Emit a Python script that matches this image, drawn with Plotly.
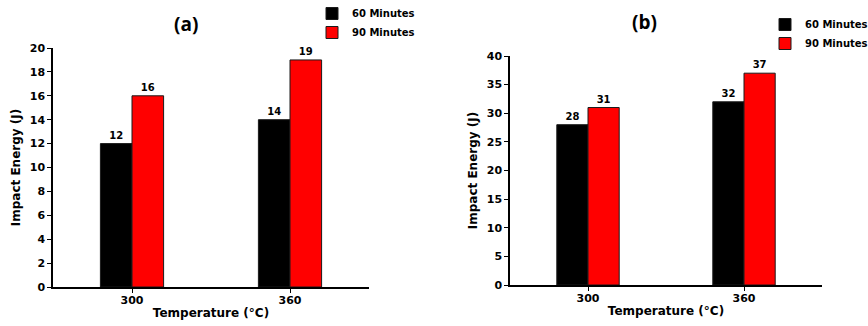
import plotly.graph_objects as go

temperatures = ["300", "360"]
a_60 = [12, 14]
a_90 = [16, 19]
b_60 = [28, 32]
b_90 = [31, 37]
series_names = ["60 Minutes", "90 Minutes"]
colors = ["#000000", "#ff0000"]

FONT = "DejaVu Sans"
W, H = 868, 326
fig = go.Figure()

def add_pair(vals60, vals90, xa, ya, leg):
    for name, vals, col in zip(series_names, [vals60, vals90], colors):
        fig.add_trace(go.Bar(
            x=temperatures, y=vals, name=name, xaxis=xa, yaxis=ya,
            marker=dict(color=col, line=dict(color="#1a1a1a", width=1)),
            text=vals, texttemplate="<b>%{text}</b>", textposition="outside",
            textfont=dict(family=FONT, size=10, color="black"),
            cliponaxis=False, legend=leg, showlegend=True,
        ))

add_pair(a_60, a_90, "x", "y", "legend")
add_pair(b_60, b_90, "x2", "y2", "legend2")

axis_common = dict(showline=True, linecolor="black", linewidth=1.5, showgrid=False,
                   zeroline=False, ticks="outside", ticklen=4, tickwidth=1.2,
                   tickcolor="black", mirror=False, automargin=True,
                   tickfont=dict(family=FONT, size=11, color="black", weight="bold"))

xt = dict(text="<b>Temperature (°C)</b>", font=dict(family=FONT, size=12, color="black"), standoff=3)
yt = dict(text="<b>Impact Energy (J)</b>", font=dict(family=FONT, size=12, color="black"), standoff=7)

leg_common = dict(font=dict(family=FONT, size=10, color="black", weight="bold"),
                  bgcolor="rgba(0,0,0,0)", tracegroupgap=0, itemwidth=30,
                  xanchor="left", yanchor="top", traceorder="normal",
                  xref="paper", yref="paper")

fig.update_layout(
    width=W, height=H, margin=dict(l=0, r=0, t=0, b=0, autoexpand=False),
    paper_bgcolor="white", plot_bgcolor="white",
    barmode="group", bargap=0.6, bargroupgap=0,
    xaxis=dict(domain=[53 / W, 369 / W], type="category", range=[-0.5, 1.5],
               anchor="y", title=xt, ticklabelstandoff=-2, **axis_common),
    yaxis=dict(domain=[1 - 287 / H, 1 - 48 / H], range=[0, 20], dtick=2, anchor="x",
               title=yt, **axis_common),
    xaxis2=dict(domain=[510 / W, 822 / W], type="category", range=[-0.5, 1.5],
                anchor="y2", title=xt, ticklabelstandoff=-2, **axis_common),
    yaxis2=dict(domain=[1 - 285 / H, 1 - 56 / H], range=[0, 40], dtick=5, anchor="x2",
                title=yt, **axis_common),
    legend=dict(x=312 / W, y=1 + 1 / H, **leg_common),
    legend2=dict(x=765 / W, y=1 - 10 / H, **leg_common),
    annotations=[
        dict(text="<b>(a)</b>", x=186 / W, y=1 - 24 / H, xref="paper", yref="paper",
             xanchor="center", yanchor="middle",
             showarrow=False, font=dict(family="Open Sans", size=19, color="black")),
        dict(text="<b>(b)</b>", x=644 / W, y=1 - 22 / H, xref="paper", yref="paper",
             xanchor="center", yanchor="middle",
             showarrow=False, font=dict(family="Open Sans", size=19, color="black")),
    ],
)

fig.write_html("out.html", config={"displayModeBar": False},
               post_script="document.body.style.margin='0';")
